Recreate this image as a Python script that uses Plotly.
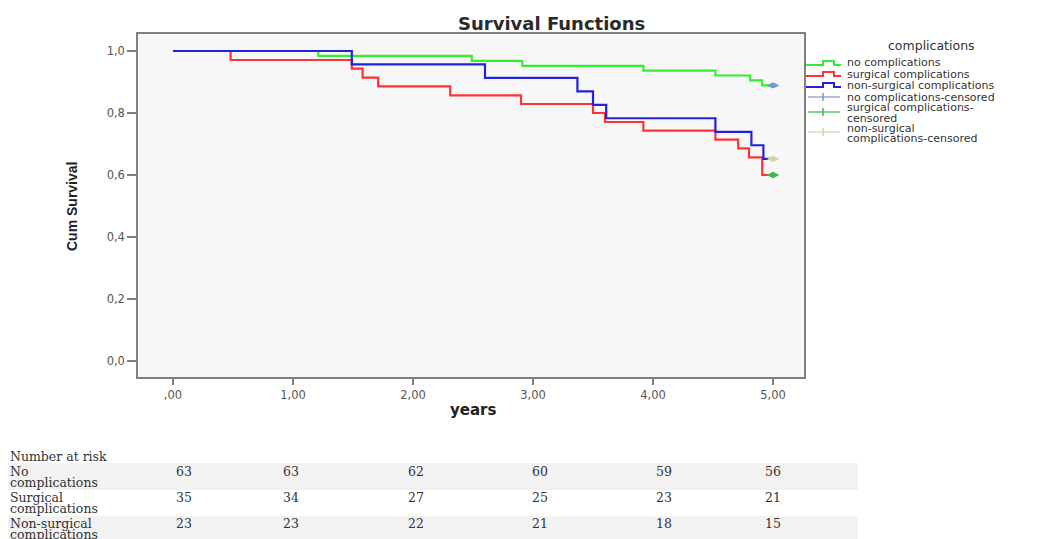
import plotly.graph_objects as go

# ---------------- data ----------------
groups = ["no complications", "surgical complications", "non-surgical complications"]

t_none = [0, 1.21, 2.49, 2.91, 3.92, 4.52, 4.81, 4.91, 5.0]
s_none = [1.0, 0.984, 0.968, 0.952, 0.937, 0.921, 0.905, 0.889, 0.889]

t_surg = [0, 0.48, 1.49, 1.58, 1.71, 2.31, 2.90, 3.50, 3.60, 3.92, 4.52, 4.71, 4.80, 4.91, 5.0]
s_surg = [1.0, 0.971, 0.943, 0.914, 0.886, 0.857, 0.829, 0.800, 0.771, 0.743, 0.714, 0.686, 0.657, 0.600, 0.600]

t_nons = [0, 1.49, 2.60, 3.37, 3.50, 3.61, 4.52, 4.82, 4.92, 5.0]
s_nons = [1.0, 0.957, 0.913, 0.870, 0.826, 0.783, 0.739, 0.696, 0.652, 0.652]

cens_t = [5.0, 5.0, 5.0]
cens_s = [0.889, 0.600, 0.652]

x_ticks = [0, 1, 2, 3, 4, 5]
x_tick_labels = [",00", "1,00", "2,00", "3,00", "4,00", "5,00"]
y_ticks = [0, 0.2, 0.4, 0.6, 0.8, 1.0]
y_tick_labels = ["0,0", "0,2", "0,4", "0,6", "0,8", "1,0"]

risk_labels = [["No", "complications"], ["Surgical", "complications"], ["Non-surgical", "complications"]]
risk_none = [63, 63, 62, 60, 59, 56]
risk_surg = [35, 34, 27, 25, 23, 21]
risk_nons = [23, 23, 22, 21, 18, 15]

# ---------------- styles ----------------
OFF = 8  # page body margin
W, H = 1051 - OFF, 539 - OFF
L, R, T, B = 138, 804, 34, 377  # plot area in page pixels
line_cols = ["#33ee33", "#ff3333", "#2222dd"]
cens_cols = ["#7b96d0", "#3cb84f", "#d8d09e"]
cens_names = ["no complications-censored", "surgical complications-censored",
              "non-surgical complications-censored"]


def px(x):
    return (x - L) / (R - L)


def py(y):
    return (B - y) / (B - T)


fig = go.Figure()
for t, s, c, n in zip([t_none, t_surg, t_nons], [s_none, s_surg, s_nons], line_cols, groups):
    fig.add_trace(go.Scatter(x=t, y=s, mode="lines", line=dict(color=c, width=2.2, shape="hv"),
                             name=n, showlegend=False, hoverinfo="skip"))
for i in range(3):
    fig.add_trace(go.Scatter(x=[cens_t[i]], y=[cens_s[i]], mode="markers", name=cens_names[i],
                             marker=dict(symbol="diamond-wide", size=9, color=cens_cols[i]),
                             showlegend=False, hoverinfo="skip"))

annotations = []
shapes = []

# title and axis titles
annotations.append(dict(text="<b>Survival Functions</b>", x=px(551), y=py(23), xref="paper", yref="paper",
                        showarrow=False, font=dict(family="DejaVu Sans", size=18, color="#2a2a2a"),
                        xanchor="center", yanchor="middle"))
annotations.append(dict(text="<b>years</b>", x=px(473), y=py(410), xref="paper", yref="paper",
                        showarrow=False, font=dict(family="DejaVu Sans", size=15, color="#222"),
                        xanchor="center", yanchor="middle"))
annotations.append(dict(text="<b>Cum Survival</b>", x=px(72), y=py(207), xref="paper", yref="paper",
                        showarrow=False, textangle=-90,
                        font=dict(family="Liberation Sans Narrow, Liberation Sans", size=14, color="#222"),
                        xanchor="center", yanchor="middle"))

# legend (manual, SPSS style)
lg_font = dict(family="DejaVu Sans", size=11, color="#333")
annotations.append(dict(text="complications", x=px(931), y=py(46), xref="paper", yref="paper",
                        showarrow=False, font=dict(family="DejaVu Sans", size=12.5, color="#333"),
                        xanchor="center", yanchor="middle"))
row_y = [63, 74, 85]
for i in range(3):
    y0 = row_y[i] + 2
    y1 = row_y[i] - 2
    path = (f"M {px(806)},{py(y0)} L {px(823)},{py(y0)} L {px(823)},{py(y1)} "
            f"L {px(834)},{py(y1)} L {px(834)},{py(y0)} L {px(841)},{py(y0)}")
    shapes.append(dict(type="path", path=path, xref="paper", yref="paper",
                       line=dict(color=line_cols[i], width=2)))
    annotations.append(dict(text=groups[i], x=px(845), y=py(row_y[i]), xref="paper", yref="paper",
                            showarrow=False, font=lg_font, xanchor="left", yanchor="middle"))

cens_icon_y = [97, 112, 132]
cens_text = [[("no complications-censored", 97)],
             [("surgical complications-", 108), ("censored", 118)],
             [("non-surgical", 128), ("complications-censored", 138)]]
for i in range(3):
    yy = cens_icon_y[i]
    shapes.append(dict(type="line", x0=px(808), x1=px(840), y0=py(yy), y1=py(yy), xref="paper", yref="paper",
                       line=dict(color=cens_cols[i], width=1.2)))
    shapes.append(dict(type="line", x0=px(823), x1=px(823), y0=py(yy - 4), y1=py(yy + 4), xref="paper",
                       yref="paper", line=dict(color=cens_cols[i], width=1.5)))
    for txt, ty in cens_text[i]:
        annotations.append(dict(text=txt, x=px(845), y=py(ty), xref="paper", yref="paper",
                                showarrow=False, font=lg_font, xanchor="left", yanchor="middle"))

# number-at-risk table
tbl_font = dict(family="DejaVu Serif", size=12.5, color="#333")
shapes.append(dict(type="rect", x0=px(7), x1=px(858), y0=py(463), y1=py(490), xref="paper", yref="paper",
                   fillcolor="#f2f2f2", line=dict(width=0), layer="below"))
shapes.append(dict(type="rect", x0=px(7), x1=px(858), y0=py(516), y1=py(545), xref="paper", yref="paper",
                   fillcolor="#f2f2f2", line=dict(width=0), layer="below"))
annotations.append(dict(text="Number at risk", x=px(8), y=py(457), xref="paper", yref="paper",
                        showarrow=False, font=tbl_font, xanchor="left", yanchor="middle"))
col_x = [184, 291, 416, 540, 664, 773]
row_num_y = [471, 497, 523]
for r, vals in enumerate([risk_none, risk_surg, risk_nons]):
    ry = row_num_y[r]
    annotations.append(dict(text=risk_labels[r][0], x=px(8), y=py(ry), xref="paper", yref="paper",
                            showarrow=False, font=tbl_font, xanchor="left", yanchor="middle"))
    annotations.append(dict(text=risk_labels[r][1], x=px(8), y=py(ry + 11), xref="paper", yref="paper",
                            showarrow=False, font=tbl_font, xanchor="left", yanchor="middle"))
    for cx, v in zip(col_x, vals):
        annotations.append(dict(text=str(v), x=px(cx), y=py(ry), xref="paper", yref="paper",
                                showarrow=False, font=tbl_font, xanchor="center", yanchor="middle"))

x_range = [-(173 - L) / 120, (R - 173) / 120]
y_range = [-(B - 361) / 310, 1 + (51 - T) / 310]

fig.update_layout(
    width=W, height=H,
    margin=dict(l=L - OFF, r=1051 - R, t=T - OFF, b=539 - B, pad=0),
    paper_bgcolor="white", plot_bgcolor="#f7f7f7",
    showlegend=False,
    annotations=annotations, shapes=shapes,
    xaxis=dict(range=x_range, tickvals=x_ticks, ticktext=x_tick_labels, showgrid=False, zeroline=False,
               showline=True, linecolor="#808080", linewidth=1.5, mirror=True,
               ticks="outside", ticklen=6, tickwidth=1.5, tickcolor="#808080",
               tickfont=dict(family="DejaVu Sans", size=11.5, color="#555")),
    yaxis=dict(range=y_range, tickvals=y_ticks, ticktext=y_tick_labels, showgrid=False, zeroline=False,
               showline=True, linecolor="#808080", linewidth=1.5, mirror=True,
               ticks="outside", ticklen=9, tickwidth=1.5, tickcolor="#808080",
               tickfont=dict(family="DejaVu Sans", size=11.5, color="#555")),
)

fig.write_html("out.html")
